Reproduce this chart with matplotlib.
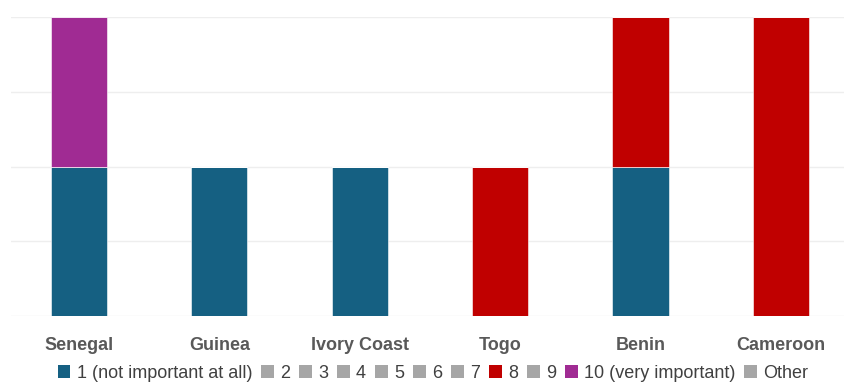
import numpy as np
import matplotlib.pyplot as plt
from matplotlib.patches import Patch

countries = ['Senegal', 'Guinea', 'Ivory Coast', 'Togo', 'Benin', 'Cameroon']
series_names = ['1 (not important at all)', '2', '3', '4', '5', '6', '7', '8', '9',
                '10 (very important)', 'Other']
# number of responses per rating, one list per country column
values = {
    '1 (not important at all)': [1, 1, 1, 0, 1, 0],
    '2': [0, 0, 0, 0, 0, 0],
    '3': [0, 0, 0, 0, 0, 0],
    '4': [0, 0, 0, 0, 0, 0],
    '5': [0, 0, 0, 0, 0, 0],
    '6': [0, 0, 0, 0, 0, 0],
    '7': [0, 0, 0, 0, 0, 0],
    '8': [0, 0, 0, 1, 1, 2],
    '9': [0, 0, 0, 0, 0, 0],
    '10 (very important)': [1, 0, 0, 0, 0, 0],
    'Other': [0, 0, 0, 0, 0, 0],
}
colors = {'1 (not important at all)': '#156082', '8': '#C00000',
          '10 (very important)': '#A02B93'}
grey = '#A6A6A6'

fig = plt.figure(figsize=(8.44, 3.83), dpi=100)
ax = fig.add_axes([11/844, 1 - 316/383, 833/844, 299/383])

x = np.arange(len(countries))
bottom = np.zeros(len(countries))
for name in series_names:
    v = np.array(values[name], dtype=float)
    c = colors.get(name, grey)
    ax.bar(x, v, width=0.4, bottom=bottom, color=c, edgecolor='white',
           linewidth=0.4, zorder=3)
    bottom += v

ax.set_xlim(-0.484, 5.449)
ax.set_ylim(0, 2)
ax.set_yticks([0, 0.5, 1, 1.5, 2])
ax.yaxis.grid(True, color='#EEEEEE', linewidth=1, zorder=0)
ax.tick_params(axis='y', left=False, labelleft=False)
ax.tick_params(axis='x', length=0, pad=15)
for s in ax.spines.values():
    s.set_visible(False)
ax.set_xticks(x)
ax.set_xticklabels(countries, fontsize=13, fontweight='bold', color='#595959',
                   family=['Liberation Sans', 'DejaVu Sans'])

handles = [Patch(facecolor=colors.get(n, grey), edgecolor='none') for n in series_names]
fig.legend(handles, series_names, loc='center', bbox_to_anchor=(0.513, 1 - 373/383),
           ncol=len(series_names), frameon=False, handlelength=0.7, handleheight=0.7,
           handletextpad=0.35, columnspacing=0.5, borderpad=0,
           prop={'size': 13, 'family': ['Liberation Sans', 'DejaVu Sans']},
           labelcolor='#404040')

fig.savefig('out.png', dpi=100)
